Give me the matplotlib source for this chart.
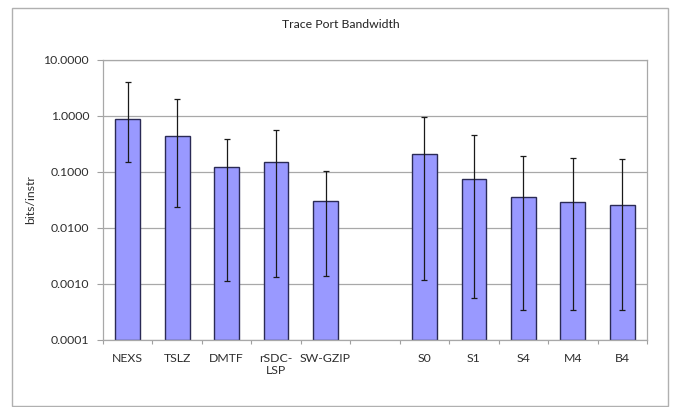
import matplotlib
matplotlib.use("Agg")
import matplotlib.pyplot as plt
from matplotlib.patches import Rectangle
from matplotlib.ticker import FixedLocator, NullLocator
import numpy as np

# Bandwidth per scheme (bits per instruction), with min/max range
categories = ["NEXS", "TSLZ", "DMTF", "rSDC-\nLSP", "SW-GZIP", "", "S0", "S1", "S4", "M4", "B4"]
means = [0.90, 0.445, 0.121, 0.151, 0.0308, None, 0.212, 0.075, 0.0358, 0.0291, 0.0261]
err_low = [0.149, 0.0237, 0.00112, 0.00131, 0.00137, None, 0.00118, 0.000554, 0.000348, 0.000348, 0.000348]
err_high = [4.05, 1.98, 0.388, 0.562, 0.104, None, 0.97, 0.452, 0.193, 0.175, 0.168]
y_ticks = [0.0001, 0.001, 0.01, 0.1, 1, 10]

plt.rcParams["font.family"] = ["Lato", "DejaVu Sans"]
FS = 8.8
TXT = "#2e2e2e"

W, H = 675, 407
fig = plt.figure(figsize=(W / 100, H / 100), dpi=100)

# outer chart frame
fig.patches.append(Rectangle((12 / W, 1 - 406 / H), (668 - 12) / W, (406 - 8) / H,
                             transform=fig.transFigure, fill=False,
                             edgecolor="#b0b0b0", linewidth=1.0))

left, right, top, bottom = 103, 647, 60, 340
ax = fig.add_axes([left / W, 1 - bottom / H, (right - left) / W, (bottom - top) / H])

idx = [i for i, m in enumerate(means) if m is not None]
x = np.array(idx, dtype=float)
vals = np.array([means[i] for i in idx])
lo = np.array([err_low[i] for i in idx])
hi = np.array([err_high[i] for i in idx])

ax.set_yscale("log")
ax.set_ylim(1e-4, 10)
ax.set_xlim(-0.5, len(categories) - 0.5)

ax.bar(x, vals, width=0.5, bottom=1e-4, color="#9999ff", edgecolor="#2a2a55",
       linewidth=1.0, zorder=2)
ax.errorbar(x, vals, yerr=[vals - lo, hi - vals], fmt="none", ecolor="#1a1a1a",
            elinewidth=0.9, capsize=2.2, capthick=0.9, zorder=3)

ax.yaxis.set_major_locator(FixedLocator(y_ticks))
ax.yaxis.set_minor_locator(NullLocator())
ax.set_yticklabels([f"{v:.4f}" for v in y_ticks])
ax.grid(axis="y", which="major", color="#a8a8a8", linewidth=0.9, zorder=0)

ax.set_xticks(range(len(categories)))
ax.set_xticklabels(categories, linespacing=1.15)
ax.xaxis.set_minor_locator(FixedLocator(np.arange(-0.5, len(categories), 1.0)))
ax.tick_params(axis="x", which="major", length=0, pad=9, labelsize=FS, labelcolor=TXT)
ax.tick_params(axis="x", which="minor", length=3, color="#a0a0a0", width=0.8)
ax.tick_params(axis="y", which="major", length=4, color="#a0a0a0", width=0.8,
               labelsize=FS, labelcolor=TXT, pad=6)

for s in ax.spines.values():
    s.set_color("#a8a8a8")
    s.set_linewidth(0.9)

ax.set_ylabel("bits/instr", fontsize=FS, color=TXT, labelpad=5)
fig.text(341 / W, 1 - 25 / H, "Trace Port Bandwidth", ha="center", va="center",
         fontsize=FS, color="#222222")

fig.savefig("out.png", dpi=100)
